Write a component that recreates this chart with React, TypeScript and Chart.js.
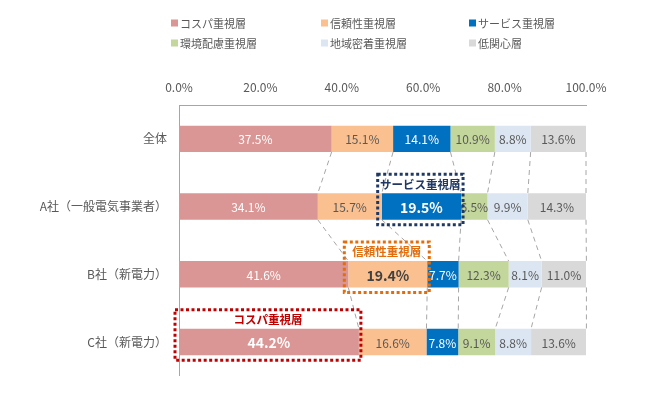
import React, { useEffect, useRef } from "react";
import { Chart, registerables } from "chart.js";

Chart.register(...registerables);

const categories = ["全体", "A社（一般電気事業者）", "B社（新電力）", "C社（新電力）"];
const seriesNames = ["コスパ重視層", "信頼性重視層", "サービス重視層", "環境配慮重視層", "地域密着重視層", "低関心層"];
const seriesColors = ["#D99694", "#FAC090", "#0070C0", "#C3D69B", "#DCE6F2", "#D9D9D9"];
const labelColors = ["#FFFFFF", "#595959", "#FFFFFF", "#595959", "#595959", "#595959"];

const costPerf = [37.5, 34.1, 41.6, 44.2];
const reliability = [15.1, 15.7, 19.4, 16.6];
const service = [14.1, 19.5, 7.7, 7.8];
const environment = [10.9, 6.5, 12.3, 9.1];
const community = [8.8, 9.9, 8.1, 8.8];
const lowInterest = [13.6, 14.3, 11.0, 13.6];

const xTicks = [0, 20, 40, 60, 80, 100];

const highlights = [
  { series: 2, category: 1, title: "サービス重視層", color: "#203864", labelColor: "#FFFFFF" },
  { series: 1, category: 2, title: "信頼性重視層", color: "#E46C0A", labelColor: "#404040" },
  { series: 0, category: 3, title: "コスパ重視層", color: "#C00000", labelColor: "#FFFFFF" },
];

const FONT = '"Noto Sans CJK JP", "Noto Sans", sans-serif';

const legendPlugin = {
  id: "gridLegend",
  afterDraw(chart: any) {
    const ctx = chart.ctx;
    const cols = [171, 321, 469];
    const rows = [23, 43];
    ctx.save();
    ctx.font = `11px ${FONT}`;
    ctx.textBaseline = "middle";
    ctx.textAlign = "left";
    seriesNames.forEach((name, i) => {
      const x = cols[i % 3];
      const y = rows[Math.floor(i / 3)];
      ctx.fillStyle = seriesColors[i];
      ctx.fillRect(x, y - 3.5, 7, 7);
      ctx.fillStyle = "#595959";
      ctx.fillText(name, x + 9, y + 0.5);
    });
    ctx.restore();
  },
};

const connectorPlugin = {
  id: "connectors",
  afterDatasetsDraw(chart: any) {
    const ctx = chart.ctx;
    ctx.save();
    ctx.strokeStyle = "#A6A6A6";
    ctx.lineWidth = 1;
    ctx.setLineDash([5, 4]);
    const n = chart.data.datasets.length;
    for (let k = 0; k < n; k++) {
      const meta = chart.getDatasetMeta(k);
      for (let j = 0; j < categories.length - 1; j++) {
        const a = meta.data[j] as any;
        const b = meta.data[j + 1] as any;
        ctx.beginPath();
        ctx.moveTo(a.x, a.y + a.height / 2);
        ctx.lineTo(b.x, b.y - b.height / 2);
        ctx.stroke();
      }
    }
    ctx.restore();
  },
};

const labelPlugin = {
  id: "barLabels",
  afterDatasetsDraw(chart: any) {
    const ctx = chart.ctx;
    ctx.save();
    ctx.textAlign = "center";
    ctx.textBaseline = "middle";
    chart.data.datasets.forEach((ds: any, k: number) => {
      const meta = chart.getDatasetMeta(k);
      meta.data.forEach((el: any, j: number) => {
        const hl = highlights.find((h) => h.series === k && h.category === j);
        const cx = (el.x + el.base) / 2;
        if (hl) {
          ctx.font = `bold 14px ${FONT}`;
          ctx.fillStyle = hl.labelColor;
        } else {
          ctx.font = `12px ${FONT}`;
          ctx.fillStyle = labelColors[k];
        }
        ctx.fillText(ds.data[j].toFixed(1) + "%", cx, el.y + 1);
      });
    });
    // annotation boxes
    highlights.forEach((h) => {
      const el = chart.getDatasetMeta(h.series).data[h.category] as any;
      const left = Math.min(el.x, el.base) - 4;
      const right = Math.max(el.x, el.base) + 2;
      const top = el.y - el.height / 2 - 19;
      const bottom = el.y + el.height / 2 + 5;
      ctx.strokeStyle = h.color;
      ctx.lineWidth = 3;
      ctx.setLineDash([3, 2.5]);
      ctx.strokeRect(left, top, right - left, bottom - top);
      ctx.setLineDash([]);
      ctx.font = `bold 11.5px ${FONT}`;
      ctx.fillStyle = h.color;
      ctx.fillText(h.title, (left + right) / 2, top + 10);
    });
    ctx.restore();
  },
};

export default function App() {
  const ref = useRef<HTMLCanvasElement | null>(null);
  useEffect(() => {
    if (!ref.current) return;
    const values = [costPerf, reliability, service, environment, community, lowInterest];
    const chart = new Chart(ref.current, {
      type: "bar",
      data: {
        labels: categories,
        datasets: values.map((v, i) => ({
          label: seriesNames[i],
          data: v,
          backgroundColor: seriesColors[i],
          borderWidth: 0,
          barPercentage: 0.39,
          categoryPercentage: 1,
        })),
      },
      options: {
        indexAxis: "y",
        responsive: false,
        animation: false,
        layout: { padding: { top: 0, left: 0, right: 73, bottom: 14 } },
        plugins: {
          legend: { display: false },
          tooltip: { enabled: false },
        },
        scales: {
          x: {
            position: "top",
            stacked: true,
            min: 0,
            max: 100,
            afterFit: (s: any) => {
              s.height = 105;
            },
            afterBuildTicks: (s: any) => {
              s.ticks = xTicks.map((v) => ({ value: v }));
            },
            grid: { display: false, drawTicks: false },
            border: { display: true, color: "#A6A6A6", width: 1 },
            ticks: {
              padding: 10,
              color: "#595959",
              font: { family: FONT, size: 12 },
              callback: (v: any) => Number(v).toFixed(1) + "%",
            },
          },
          y: {
            stacked: true,
            afterFit: (s: any) => {
              s.width = 179;
            },
            grid: { display: false, drawTicks: false },
            border: { display: true, color: "#A6A6A6", width: 1 },
            ticks: {
              padding: 12,
              color: "#595959",
              font: { family: FONT, size: 12 },
            },
          },
        },
      },
      plugins: [legendPlugin, connectorPlugin, labelPlugin],
    } as any);
    return () => chart.destroy();
  }, []);
  return (
    <div style={{ position: "absolute", left: 0, top: 0, width: 659, height: 395, background: "#fff" }}>
      <canvas ref={ref} width={659} height={395} />
    </div>
  );
}
